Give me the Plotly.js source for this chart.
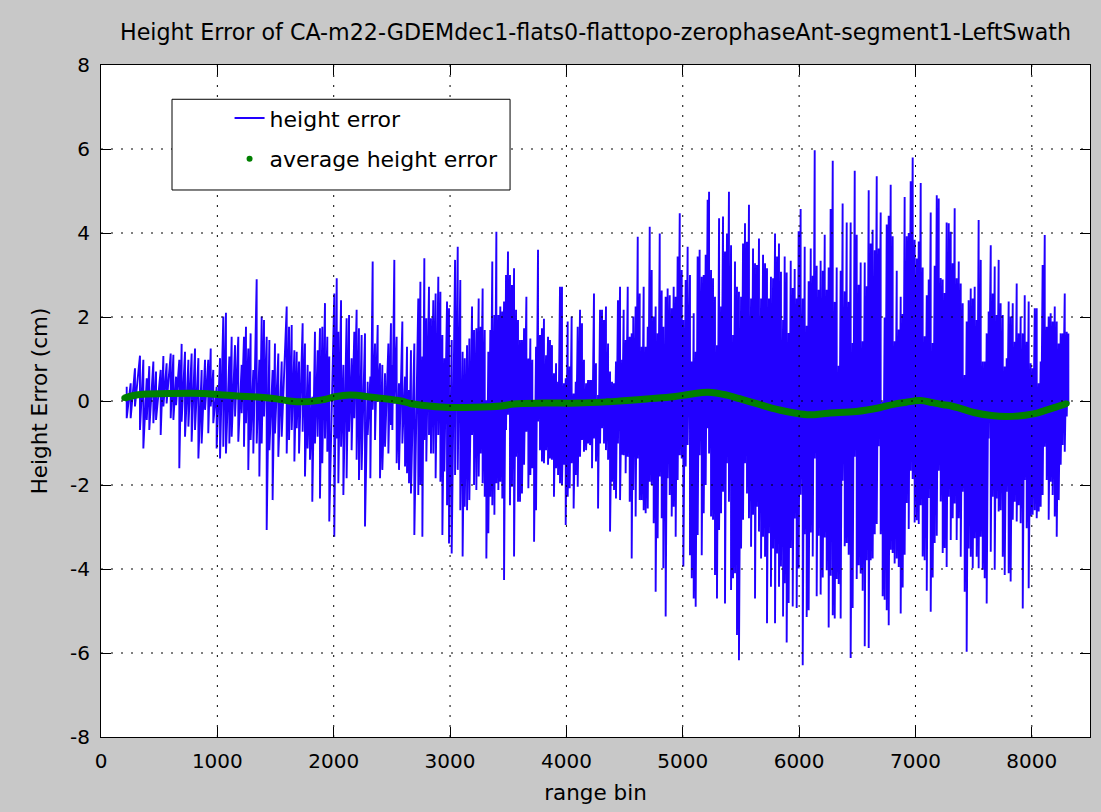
<!DOCTYPE html>
<html>
<head>
<meta charset="utf-8">
<script src="https://cdn.plot.ly/plotly-3.0.1.min.js"></script>
<style>html,body{margin:0;padding:0;background:#c8c8c8;}#chart{width:1101px;height:812px;}</style>
</head>
<body>
<div id="chart"></div>
<script>
// ---- data ----
// Range-bin positions of the visible spikes of the "height error" trace,
// with the top and bottom of each spike (cm).
const rangeBin = [
221,255,292,335,364,393,415,450,473,513,536,564,599,622,645,673,693,722,751,779,808,837,865,894,922,943,965,994,1023,1051,1074,1103,1123,1152,1180,1209,1229,1246,1266,1286,1309,1338,1361,1381,1401,1424,1447,1475,1495,1524,1553,
1596,1616,1639,1662,1682,1702,1733,1753,1776,1796,1816,1839,1862,1882,1902,1925,1945,1962,2005,2026,2040,2063,2083,2111,2132,2154,2177,2197,2217,2240,2269,2292,2315,2335,2355,2378,2398,2418,2441,2470,2492,2504,2521,2541,2561,2590,2613,2630,2647,2664,2693,2727,2745,2762,2779,2796,2819,2836,2856,2876,2899,2917,2934,2951,2974,2991,3014,3043,3066,
3088,3108,3126,3146,3166,3189,3206,3226,3246,3263,3280,3298,3312,3329,3346,3363,3381,3398,3415,3432,3449,3464,3481,3498,3515,3532,3550,3567,3584,3601,3618,3636,3656,3673,3690,3707,3722,3739,3756,3773,3790,3807,3825,3842,3859,3876,3893,3911,3928,3945,3962,3979,3994,4011,4028,4045,4062,4080,4097,4117,4134,4151,4169,4186,4203,4220,4237,4254,4272,4289,4306,4323,4340,4358,4375,4392,4409,4426,4443,4461,4478,
4492,4509,4527,4544,4561,4575,4595,4613,4630,4647,4664,4681,4699,4716,4733,4750,4767,4784,4802,4819,4833,4853,4870,4888,4905,4922,4939,4956,4974,4991,5005,5025,5042,5062,5077,5094,5111,5128,5145,5163,5180,5197,5214,5226,5243,5260,5277,5294,5312,5329,5346,5363,5380,5397,5415,5432,5449,5466,5483,5501,5518,5535,5552,5569,5587,5604,5621,5638,5655,5673,5690,5707,5724,5741,5758,5776,5793,5810,5827,5844,5862,5876,
5893,5910,5928,5945,5962,5979,5996,6013,6031,6048,6065,6082,6100,6117,6134,6151,6168,6185,6203,6220,6237,6254,6271,6289,6306,6323,6340,6357,6374,6392,6409,6426,6443,6460,6478,6495,6512,6529,6546,6564,6581,6598,6615,6632,6650,6667,6684,6701,6718,6735,6753,6770,6787,6804,6821,6839,6856,6873,6890,6907,6925,6942,6959,6976,6993,7011,7028,7045,7062,7079,7097,7114,7131,7148,7165,7183,7200,7217,7234,7251,7268,
7286,7303,7320,7337,7354,7372,7389,7406,7423,7440,7457,7475,7492,7509,7526,7543,7561,7578,7595,7612,7629,7647,7664,7681,7698,7715,7732,7750,7767,7784,7801,7818,7836,7853,7870,7887,7904,7922,7939,7956,7973,7990,8007,8025,8042,8059,8076,8093,8111,8128,8145,8162,8179,8197,8214,8231,8248,8265,8283,8300,8314
];
const peakHigh = [
0.34,0.42,0.78,1.08,0.98,0.54,0.83,0.94,0.70,0.74,1.07,0.90,1.13,1.10,0.58,0.98,1.36,1.17,0.98,1.13,1.25,1.02,0.74,0.98,0.98,1.25,0.74,0.34,1.02,2.01,2.10,1.06,1.53,1.33,1.53,0.86,1.53,1.77,1.25,1.61,0.74,2.90,0.98,2.01,1.93,1.53,1.45,0.74,1.37,1.13,0.94,
2.25,1.77,1.81,1.21,1.17,0.94,1.85,1.37,0.86,0.70,0.10,1.65,1.21,1.73,1.77,2.33,1.53,1.06,2.56,2.92,1.65,2.40,0.86,1.97,2.05,1.02,1.65,2.17,1.73,1.57,1.61,0.46,0.58,3.32,1.37,1.81,0.90,0.86,0.66,1.37,1.85,0.86,3.36,1.53,0.42,1.89,0.58,1.29,0.26,1.21,1.37,2.44,2.84,1.06,3.40,1.97,2.72,1.97,2.40,2.56,2.96,2.60,1.57,1.02,2.37,2.21,1.45,3.36,3.67,
2.88,1.17,1.02,1.33,1.49,2.25,1.69,1.73,2.44,1.77,2.68,1.69,0.02,1.17,1.69,3.32,2.05,4.03,2.05,2.25,2.13,2.37,3.00,3.56,3.00,2.76,3.16,2.17,1.93,1.45,1.45,1.73,2.48,1.01,1.49,0.98,0.02,1.29,3.60,1.57,1.73,1.96,1.09,1.53,1.45,1.33,0.66,0.90,0.46,2.72,2.72,0.42,0.54,1.89,0.82,2.01,0.18,0.46,1.77,2.17,1.85,0.98,0.42,0.50,0.50,0.50,2.56,0.90,0.14,2.17,2.17,1.93,2.25,1.37,0.70,0.46,0.42,0.94,2.40,2.72,0.98,
2.17,1.45,2.72,1.53,1.61,2.01,2.25,3.91,2.56,1.29,2.72,1.29,1.77,4.15,3.12,2.01,2.25,1.61,3.99,2.63,1.77,2.48,2.68,2.52,2.21,2.72,2.48,3.44,4.47,3.12,1.93,2.88,3.67,3.00,0.94,2.09,1.17,3.44,3.60,2.96,3.00,3.48,4.79,4.98,3.12,2.92,2.48,1.33,4.35,2.25,4.39,3.56,3.99,4.98,3.71,1.57,3.32,2.72,2.60,2.48,3.75,4.23,3.79,4.67,2.44,3.63,3.28,3.24,3.87,2.44,3.48,3.28,3.16,2.44,2.96,2.92,3.99,3.44,3.75,3.08,1.93,3.44,
3.06,1.62,3.34,2.69,3.14,2.44,4.04,4.57,2.44,3.67,1.79,2.85,3.63,2.98,5.97,3.22,2.65,3.34,3.10,3.96,2.65,3.18,4.57,5.72,2.36,3.18,0.84,3.10,4.70,2.61,4.25,2.36,4.25,1.38,5.48,3.96,2.77,3.30,1.42,3.30,2.73,5.02,3.75,4.08,3.59,5.35,3.63,4.49,-0.02,1.99,4.20,4.41,5.15,3.92,1.42,3.10,1.70,2.48,2.07,4.86,3.92,4.00,5.23,5.80,3.84,3.39,3.80,5.19,3.18,1.54,2.52,2.89,4.49,1.38,3.22,4.90,4.82,2.93,2.89,2.57,4.25,
4.23,4.03,3.28,4.59,2.92,3.32,2.80,2.33,0.62,1.89,2.40,2.68,2.44,2.72,1.93,4.31,3.36,0.94,0.94,1.61,2.13,3.71,2.56,3.20,2.05,3.36,2.33,2.05,0.82,1.02,2.37,2.01,2.33,1.41,2.80,1.61,2.01,1.61,2.52,1.41,2.37,0.90,0.78,2.21,2.21,0.42,0.94,3.24,3.95,1.77,2.01,2.09,1.89,2.25,1.89,1.37,1.61,1.61,2.56,1.65,1.61
];
const peakLow = [
-0.41,-0.41,-0.13,-0.69,-1.13,-0.45,-0.69,-0.53,-0.45,-0.81,-0.13,-0.06,-0.41,-0.45,-0.10,-1.60,-0.49,-0.85,-0.61,-0.97,-0.69,-1.37,-1.01,-0.21,-0.77,-0.13,-0.53,-1.13,-1.37,-1.09,-1.25,-1.01,-0.85,-0.37,-0.97,-0.29,-1.09,-0.53,-1.64,-0.93,-1.25,-1.01,-1.80,-1.01,-0.37,-3.07,-1.17,-2.36,-0.77,-1.33,-0.85,
-1.25,-0.93,-0.69,-1.44,-0.65,-1.25,-0.73,-1.80,-1.13,-1.40,-2.40,-1.01,-0.85,-2.32,-1.48,-0.89,-1.21,-2.87,-3.23,-0.89,-1.96,-1.09,-2.24,-1.84,-0.73,-1.17,-0.41,-1.40,-1.88,-1.64,-2.99,-0.81,-1.84,-0.21,-0.93,-0.02,-1.84,-1.64,-1.09,-1.25,-0.57,-0.69,-0.06,-1.48,-1.64,-1.01,-1.56,-1.72,-1.96,-2.20,-3.19,-2.24,-2.00,-3.23,-0.93,-1.44,-0.81,-1.25,-1.25,-1.84,-0.81,-1.92,-3.19,-1.68,-2.48,-3.39,-3.63,-1.76,-1.64,
-2.60,-3.70,-2.52,-2.60,-2.36,-0.81,-2.00,-2.12,-1.80,-1.25,-1.96,-2.28,-3.75,-3.15,-2.28,-2.48,-2.71,-1.96,-2.12,-1.92,-2.32,-4.26,-0.69,-0.33,-2.48,-2.04,-3.70,-1.33,-2.40,-2.40,-2.20,-1.52,-0.73,-2.08,-1.76,-1.60,-3.35,-2.60,-0.49,-1.17,-1.44,-1.48,-1.17,-1.52,-1.37,-1.40,-2.28,-1.60,-1.76,-1.96,-2.00,-1.52,-2.95,-2.28,-2.08,-1.48,-2.56,-1.76,-2.04,-1.33,-0.93,-1.21,-1.17,-1.01,-1.05,-1.60,-0.89,-1.44,-2.56,-1.01,-0.65,-1.01,-1.17,-1.40,-3.11,-1.92,-2.12,-2.32,-1.01,-2.36,-1.28,
-1.29,-1.72,-1.33,-2.40,-3.75,-2.12,-2.75,-1.37,-2.36,-2.36,-2.60,-2.67,-2.56,-1.92,-2.00,-2.91,-4.54,-3.27,-1.80,-2.79,-3.98,-5.13,-1.84,-2.24,-2.75,-2.52,-3.23,-1.88,-1.29,-1.37,-3.94,-1.56,-1.05,-3.67,-4.22,-4.70,-4.90,-3.19,-1.29,-3.67,-2.67,-2.00,-0.65,-1.25,-2.75,-2.83,-4.14,-4.70,-3.07,-2.67,-2.16,-4.82,-1.48,-2.40,-4.50,-4.22,-4.10,-5.57,-6.17,-3.51,-2.83,-1.48,-2.20,-2.79,-3.47,-2.71,-4.70,-2.52,-3.11,-3.75,-3.23,-3.71,-5.29,-3.15,-4.42,-3.51,-5.29,-3.63,-4.42,-3.94,-5.13,-4.34,
-5.75,-4.81,-3.50,-4.89,-2.80,-4.93,-3.99,-2.23,-6.29,-3.17,-5.14,-4.98,-3.13,-3.70,-1.37,-4.65,-3.21,-4.61,-4.20,-3.25,-4.03,-5.39,-4.16,-5.10,-5.18,-4.24,-4.36,-5.18,-1.90,-3.46,-3.38,-3.66,-6.12,-4.93,-1.33,-4.24,-3.91,-4.11,-4.52,-5.84,-3.79,-5.88,-3.79,-3.75,-3.17,-2.93,-1.08,-3.17,-4.65,-4.73,-4.98,-5.34,-3.54,-3.62,-3.87,-3.75,-3.95,-5.06,-4.44,-3.66,-2.43,-3.05,-1.66,-1.86,-2.89,-2.84,-2.93,-2.48,-3.70,-3.79,-4.52,-2.31,-5.02,-4.20,-3.38,-3.21,-1.66,-2.39,-3.62,-3.50,-3.95,
-2.28,-3.31,-2.79,-2.44,-3.31,-2.79,-3.71,-2.16,-4.54,-5.97,-3.51,-3.71,-3.98,-3.27,-3.71,-3.98,-3.23,-4.02,-4.22,-4.82,-0.89,-3.59,-2.28,-4.02,-2.32,-2.63,-2.60,-3.71,-4.14,-2.16,-4.10,-4.30,-2.83,-2.40,-2.87,-2.48,-2.91,-4.94,-1.88,-3.03,-4.46,-2.75,-2.71,-2.60,-2.79,-2.63,-2.52,-2.24,-1.09,-1.88,-2.83,-1.92,-2.24,-2.75,-3.23,-2.36,-1.52,-1.05,-1.21,-0.37,-0.06
];
// Average height error (green dotted curve)
const avgBin = [200,280,360,600,880,1020,1170,1370,1510,1620,1740,1925,2010,2140,2330,2480,2580,2660,2760,2960,3200,3440,3550,3800,4100,4350,4460,4690,4920,5060,5220,5380,5480,5580,5680,5765,5840,5950,6090,6250,6490,6690,6810,6920,7040,7150,7240,7280,7380,7510,7780,8025,8110,8200,8300];
const avgErr = [0.07,0.13,0.16,0.18,0.18,0.15,0.12,0.09,0.05,0.0,-0.02,0.04,0.10,0.14,0.09,0.04,0.0,-0.06,-0.10,-0.15,-0.15,-0.12,-0.07,-0.05,-0.05,-0.02,0.0,0.05,0.10,0.16,0.21,0.14,0.06,-0.02,-0.10,-0.17,-0.22,-0.28,-0.33,-0.29,-0.25,-0.16,-0.08,-0.03,0.01,-0.04,-0.09,-0.10,-0.17,-0.28,-0.37,-0.30,-0.23,-0.15,-0.06];

const xTicks = [0,1000,2000,3000,4000,5000,6000,7000,8000];
const yTicks = [-8,-6,-4,-2,0,2,4,6,8];
const titleText = 'Height Error of CA-m22-GDEMdec1-flats0-flattopo-zerophaseAnt-segment1-LeftSwath';

// ---- build the traces ----
const blueX = [], blueY = [];
rangeBin.forEach((b, i) => { blueX.push(b, b); blueY.push(peakHigh[i], peakLow[i]); });

const FONT = 'DejaVu Sans, Liberation Sans, sans-serif';
const traces = [
  {x: blueX, y: blueY, type: 'scatter', mode: 'lines', name: 'height error',
   line: {color: '#2200ff', width: 1.9}, legendgroup: 'a', hoverinfo: 'skip'},
  {x: avgBin, y: avgErr, type: 'scatter', mode: 'lines', showlegend: false,
   line: {color: '#007f00', width: 7, shape: 'spline'}, legendgroup: 'b', hoverinfo: 'skip'},
  {x: avgBin, y: avgErr, type: 'scatter', mode: 'markers', name: 'average height error',
   marker: {color: '#007f00', size: 6}, legendgroup: 'b', hoverinfo: 'skip'}
];

// dotted grid drawn above the data (as in the original)
const shapes = [];
xTicks.filter(t => t > 0 && t < 8500).forEach(t => shapes.push({
  type: 'line', xref: 'x', yref: 'paper', x0: t, x1: t, y0: 0, y1: 1, layer: 'above',
  line: {color: '#000', width: 1, dash: '2px,8px'}}));
yTicks.filter(t => t > -8 && t < 8).forEach(t => shapes.push({
  type: 'line', xref: 'paper', yref: 'y', x0: 0, x1: 1, y0: t, y1: t, layer: 'above',
  line: {color: '#000', width: 1, dash: '2px,8px'}}));
// legend box
shapes.push({type: 'rect', xref: 'paper', yref: 'paper', x0: 0.0718, x1: 0.4136, y0: 0.814, y1: 0.949,
  layer: 'above', fillcolor: '#fff', line: {color: '#000', width: 1}});

const axisCommon = {
  showline: true, linecolor: '#000', linewidth: 1, mirror: 'ticks',
  ticks: 'inside', ticklen: 10, tickcolor: '#000', tickwidth: 1,
  showgrid: false, zeroline: false, layer: 'above traces',
  ticklabelstandoff: 6,
  tickfont: {family: FONT, size: 20, color: '#000'}
};

const layout = {
  width: 1101, height: 812,
  paper_bgcolor: '#c8c8c8', plot_bgcolor: '#ffffff',
  margin: {l: 101, r: 11, t: 65, b: 75},
  title: {text: titleText, x: 0.5, xref: 'paper', xanchor: 'center', y: 1 - 32/812, yref: 'container', yanchor: 'middle',
    font: {family: FONT, size: 22.2, color: '#000'}},
  xaxis: Object.assign({}, axisCommon, {range: [0, 8500], tickvals: xTicks, ticktext: xTicks.map(String),
    title: {text: 'range bin', font: {family: FONT, size: 21.5, color: '#000'}, standoff: 12}}),
  yaxis: Object.assign({}, axisCommon, {range: [-8, 8], tickvals: yTicks, ticktext: yTicks.map(String),
    title: {text: 'Height Error (cm)', font: {family: FONT, size: 21.5, color: '#000'}, standoff: 16}}),
  showlegend: true,
  legend: {x: 0.130, y: 0.952, xanchor: 'left', yanchor: 'top', bgcolor: 'rgba(0,0,0,0)', borderwidth: 0,
    font: {family: FONT, size: 22, color: '#000'}, tracegroupgap: 9, traceorder: 'grouped'},
  shapes: shapes
};

Plotly.newPlot('chart', traces, layout, {staticPlot: true, displayModeBar: false});
</script>
</body>
</html>
